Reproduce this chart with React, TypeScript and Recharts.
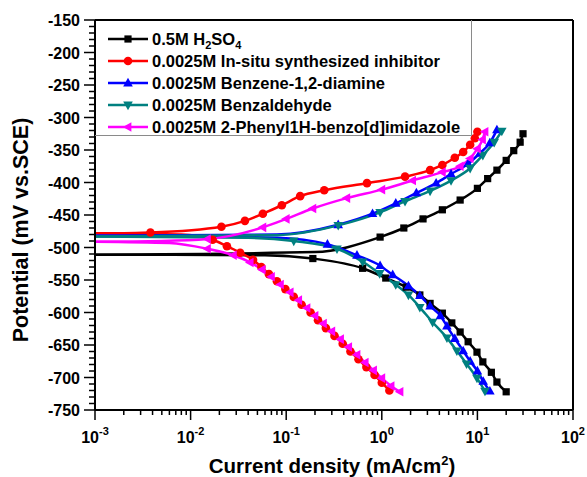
import React from "react";
import { Legend, Line, LineChart, ReferenceLine, XAxis, YAxis } from "recharts";

type Pt = [number, number]; // [current density mA/cm2, potential mV]

// Each branch: first two points are the flat part near Ecorr (no markers)
const blackAnodic: Pt[] = [
  [0.001, -511], [0.2, -507], [0.96, -484], [1.7, -470], [2.7, -456], [4.3, -442],
  [6.6, -427], [10, -409], [12.8, -394], [16, -381], [20, -366], [24, -351], [28, -338], [30, -325],
];
const blackCathodic: Pt[] = [
  [0.001, -511], [0.06, -512], [0.19, -517], [0.63, -532], [1.1, -547], [1.8, -561],
  [2.5, -573], [3.2, -586], [4.3, -601], [5.4, -616], [6.6, -630], [8, -645], [9.9, -661],
  [11.4, -676], [14, -692], [16, -707], [20, -722],
];
const redAnodic: Pt[] = [
  [0.001, -478], [0.002, -478], [0.0038, -477], [0.021, -468], [0.037, -459], [0.057, -448],
  [0.09, -435], [0.14, -421], [0.25, -412], [0.7, -401], [1.75, -391], [3.2, -381], [4.3, -373],
  [5.8, -362], [7.1, -353], [8.4, -342], [9.4, -332], [10, -322],
];
const redCathodic: Pt[] = [
  [0.001, -478], [0.008, -480], [0.017, -488], [0.024, -498], [0.033, -508], [0.045, -519],
  [0.055, -530], [0.066, -541], [0.08, -552], [0.098, -564], [0.12, -576], [0.145, -588],
  [0.18, -600], [0.215, -612], [0.26, -624], [0.32, -636], [0.39, -648], [0.47, -660],
  [0.57, -672], [0.69, -684], [0.84, -696], [1.0, -708], [1.2, -720],
];
const blueAnodic: Pt[] = [
  [0.001, -482], [0.08, -480], [0.35, -465], [0.8, -448], [1.4, -432], [2.3, -416], [3.7, -401],
  [5.3, -387], [8, -371], [10.6, -355], [13.5, -339], [16, -319],
];
const blueCathodic: Pt[] = [
  [0.001, -482], [0.08, -485], [0.27, -495], [0.55, -512], [0.96, -528], [1.3, -542], [1.9, -559],
  [2.5, -574], [3.2, -590], [4.1, -605], [4.8, -621], [5.8, -640], [7.1, -659], [8.4, -675],
  [10, -690], [11.5, -706], [13.5, -721],
];
const tealAnodic: Pt[] = [
  [0.001, -483], [0.08, -481], [0.35, -466], [0.96, -446], [1.75, -429], [3.2, -413], [5.3, -397],
  [8.4, -378], [11.4, -358], [15, -338], [18, -321],
];
const tealCathodic: Pt[] = [
  [0.001, -483], [0.04, -485], [0.12, -490], [0.34, -502], [0.63, -522], [0.95, -540], [1.4, -557],
  [1.9, -573], [2.5, -592], [3.4, -615], [4.8, -639], [6.1, -659], [7.7, -679], [9.9, -701], [12, -721],
];
const magentaAnodic: Pt[] = [
  [0.001, -491], [0.005, -490], [0.015, -487], [0.057, -469], [0.1, -456], [0.19, -440],
  [0.43, -424], [1.0, -411], [2.1, -397], [4.3, -384], [6.6, -375], [8.4, -363], [10, -348],
  [11.3, -334], [12, -322],
];
const magentaCathodic: Pt[] = [
  [0.001, -491], [0.006, -493], [0.015, -502], [0.028, -512], [0.042, -523], [0.056, -534],
  [0.07, -545], [0.087, -557], [0.11, -569], [0.135, -581], [0.165, -593], [0.2, -605],
  [0.245, -617], [0.3, -629], [0.37, -641], [0.45, -653], [0.55, -665], [0.67, -677],
  [0.82, -689], [1.0, -701], [1.25, -713], [1.55, -722],
];

const legendLabels = [
  "0.5M H2SO4",
  "0.0025M In-situ synthesized inhibitor",
  "0.0025M Benzene-1,2-diamine",
  "0.0025M Benzaldehyde",
  "0.0025M 2-Phenyl1H-benzo[d]imidazole",
];

const decades = [-3, -2, -1, 0, 1, 2];
const yMajor = [-150, -200, -250, -300, -350, -400, -450, -500, -550, -600, -650, -700, -750];

const FONT = '"Liberation Sans", Arial, Helvetica, sans-serif';

const series = [
  { color: "#000000", shape: "square", branches: [blackAnodic, blackCathodic] },
  { color: "#ff0000", shape: "circle", branches: [redAnodic, redCathodic] },
  { color: "#0000ff", shape: "up", branches: [blueAnodic, blueCathodic] },
  { color: "#008080", shape: "down", branches: [tealAnodic, tealCathodic] },
  { color: "#ff00ff", shape: "left", branches: [magentaAnodic, magentaCathodic] },
];

const xTicks: number[] = [];
decades.forEach((d) => {
  const top = d === 2 ? 1 : 9;
  for (let m = 1; m <= top; m++) xTicks.push(Number((m * 10 ** d).toPrecision(3)));
});
const yTicks: number[] = [];
for (let v = -750; v <= -150; v += 10) yTicks.push(v);

const Marker = ({ shape, cx, cy, color }: { shape: string; cx: number; cy: number; color: string }) => {
  switch (shape) {
    case "square":
      return <rect x={cx - 3.6} y={cy - 3.6} width={7.2} height={7.2} fill={color} />;
    case "circle":
      return <circle cx={cx} cy={cy} r={4.3} fill={color} />;
    case "up":
      return <polygon points={`${cx},${cy - 5.2} ${cx + 4.8},${cy + 3.4} ${cx - 4.8},${cy + 3.4}`} fill={color} />;
    case "down":
      return <polygon points={`${cx},${cy + 5.2} ${cx + 4.8},${cy - 3.4} ${cx - 4.8},${cy - 3.4}`} fill={color} />;
    default:
      return <polygon points={`${cx - 5.2},${cy} ${cx + 3.4},${cy - 4.8} ${cx + 3.4},${cy + 4.8}`} fill={color} />;
  }
};

const XTick = ({ x, y, payload }: any) => {
  const v = payload.value;
  const lg = Math.log10(v);
  const major = Math.abs(lg - Math.round(lg)) < 1e-6;
  return (
    <g>
      <line x1={x} x2={x} y1={y} y2={y + (major ? 10 : 5)} stroke="#000" strokeWidth={1.5} />
      {major && (
        <text x={x} y={y + 33} textAnchor="middle" fontFamily={FONT} fontWeight="bold" fontSize={16} fill="#000">
          <tspan>10</tspan>
          <tspan dy={-8} fontSize={11}>{Math.round(lg)}</tspan>
        </text>
      )}
    </g>
  );
};

const YTick = ({ x, y, payload }: any) => {
  const v = payload.value;
  const major = yMajor.includes(v);
  return (
    <g>
      <line x1={x - (major ? 11 : 6)} x2={x} y1={y} y2={y} stroke="#000" strokeWidth={1.5} />
      {major && (
        <text x={x - 15} y={y + 6} textAnchor="end" fontFamily={FONT} fontWeight="bold" fontSize={16} fill="#000">
          {v}
        </text>
      )}
    </g>
  );
};

const formatLabel = (s: string) =>
  s.split(/([A-Z]\d)/).map((part, k) =>
    /^[A-Z]\d$/.test(part) ? (
      <React.Fragment key={k}>
        {part[0]}
        <sub style={{ fontSize: 11, verticalAlign: "-4px", lineHeight: 0 }}>{part[1]}</sub>
      </React.Fragment>
    ) : (
      <React.Fragment key={k}>{part}</React.Fragment>
    ),
  );

const LegendBox = () => (
  <div
    style={{
      width: 377,
      height: 116,
      boxSizing: "border-box",
      borderRight: "1px solid #8a8a8a",
      borderBottom: "1px solid #8a8a8a",
      paddingTop: 8,
      fontFamily: FONT,
      fontWeight: "bold",
      fontSize: 16.5,
      color: "#000",
    }}
  >
    {series.map((s, k) => (
      <div key={k} style={{ height: 22, display: "flex", alignItems: "center", lineHeight: "22px" }}>
        <svg width={53} height={22} style={{ flex: "none" }}>
          <line x1={13} x2={53} y1={11} y2={11} stroke={s.color} strokeWidth={2.5} />
          <Marker shape={s.shape} cx={33} cy={11} color={s.color} />
        </svg>
        <span style={{ marginLeft: 4, whiteSpace: "nowrap" }}>{formatLabel(legendLabels[k])}</span>
      </div>
    ))}
  </div>
);

const toRows = (pts: Pt[]) => pts.map(([i, e]) => ({ i, e }));

export default function App() {
  return (
    <div style={{ position: "absolute", left: 0, top: 0, background: "#fff" }}>
      <LineChart width={587} height={477} margin={{ top: 20, right: 14, bottom: 0, left: 0 }}>
        <XAxis
          dataKey="i"
          type="number"
          scale="log"
          domain={[0.001, 100]}
          allowDataOverflow
          ticks={xTicks}
          interval={0}
          tickSize={0}
          tickMargin={0}
          tick={<XTick />}
          height={67}
          axisLine={{ stroke: "#000", strokeWidth: 2 }}
          label={{
            content: ({ viewBox }: any) => (
              <text
                x={viewBox.x + viewBox.width / 2 - 2}
                y={viewBox.y + 63}
                textAnchor="middle"
                fontFamily={FONT}
                fontWeight="bold"
                fontSize={20.5}
                fill="#000"
              >
                <tspan>Current density (mA/cm</tspan>
                <tspan dy={-8} fontSize={13}>2</tspan>
                <tspan dy={8}>)</tspan>
              </text>
            ),
          }}
        />
        <YAxis
          type="number"
          domain={[-750, -150]}
          allowDataOverflow
          ticks={yTicks}
          interval={0}
          tickSize={0}
          tickMargin={0}
          tick={<YTick />}
          width={95}
          axisLine={{ stroke: "#000", strokeWidth: 2 }}
          label={{
            content: ({ viewBox }: any) => {
              const cx = 21;
              const cy = viewBox.y + viewBox.height / 2 + 15;
              return (
                <text
                  x={cx}
                  y={cy}
                  transform={`rotate(-90 ${cx} ${cy})`}
                  textAnchor="middle"
                  dominantBaseline="central"
                  fontFamily={FONT}
                  fontWeight="bold"
                  fontSize={21.5}
                  fill="#000"
                >
                  Potential (mV vs.SCE)
                </text>
              );
            },
          }}
        />
        <ReferenceLine y={-150} stroke="#000" strokeWidth={2} />
        <ReferenceLine x={100} stroke="#000" strokeWidth={2} />
        {series.flatMap((s, si) =>
          s.branches.map((b, bi) => (
            <Line
              key={`${si}-${bi}`}
              data={toRows(b)}
              dataKey="e"
              type="monotone"
              stroke={s.color}
              strokeWidth={2.5}
              isAnimationActive={false}
              activeDot={false}
              dot={(p: any) =>
                p.index < 2 ? (
                  <g key={`d-${si}-${bi}-${p.index}`} />
                ) : (
                  <Marker key={`d-${si}-${bi}-${p.index}`} shape={s.shape} cx={p.cx} cy={p.cy} color={s.color} />
                )
              }
            />
          )),
        )}
        <Legend
          layout="vertical"
          align="center"
          verticalAlign="middle"
          content={() => <LegendBox />}
          wrapperStyle={{ left: 95, top: 20, width: 377, height: 116 }}
        />
      </LineChart>
    </div>
  );
}
